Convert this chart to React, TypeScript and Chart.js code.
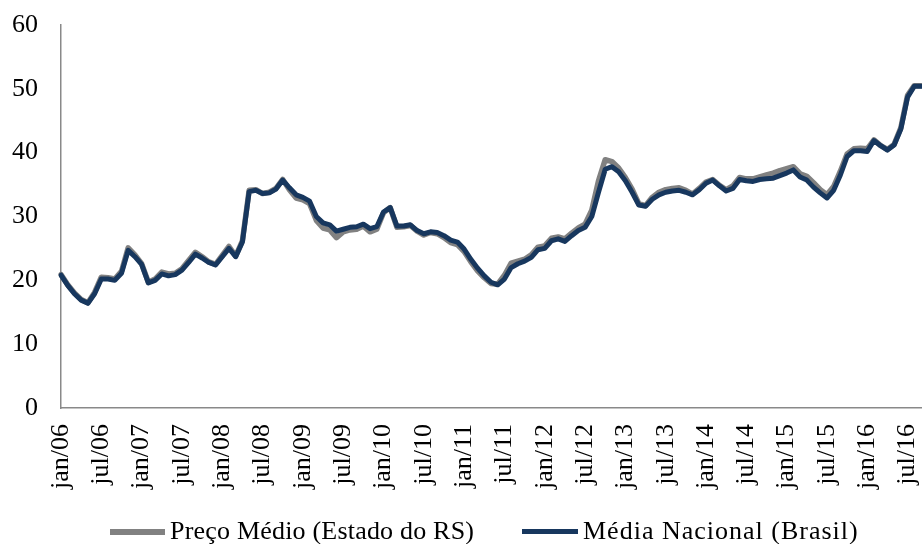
import React, { useEffect, useRef } from 'react';
import { Chart, registerables } from 'chart.js';

Chart.register(...registerables);

const monthNames = ['jan', 'fev', 'mar', 'abr', 'mai', 'jun', 'jul', 'ago', 'set', 'out', 'nov', 'dez'];
const years = ['06', '07', '08', '09', '10', '11', '12', '13', '14', '15', '16'];
const categories = years.flatMap((y) => monthNames.map((m) => `${m}/${y}`)).slice(0, 129);
const tickEvery = 6;
const yTicks = [0, 10, 20, 30, 40, 50, 60];

const seriesNames = ['Preço Médio (Estado do RS)', 'Média Nacional (Brasil)'];

const precoRS = [
  20.9, 19.3, 18.0, 17.0, 16.5, 18.1, 20.5, 20.4, 20.2, 21.4, 25.1, 24.0,
  22.6, 19.7, 20.2, 21.3, 21.0, 21.1, 21.8, 23.1, 24.4, 23.7, 22.9, 22.5,
  23.9, 25.3, 23.8, 26.2, 34.1, 34.2, 33.6, 33.8, 34.4, 35.8, 34.2, 32.9,
  32.6, 32.0, 29.4, 28.2, 27.9, 26.7, 27.6, 27.9, 28.0, 28.5, 27.6, 28.0,
  30.6, 31.4, 28.3, 28.4, 28.6, 27.7, 27.1, 27.5, 27.3, 26.7, 25.9, 25.6,
  24.5, 22.9, 21.5, 20.4, 19.5, 19.4, 20.8, 22.7, 23.0, 23.3, 24.0, 25.2,
  25.4, 26.6, 26.8, 26.5, 27.4, 28.2, 28.8, 31.0, 35.6, 38.9, 38.6, 37.6,
  36.1, 34.3, 32.0, 31.7, 33.0, 33.8, 34.2, 34.4, 34.5, 34.1, 33.5, 34.4,
  35.4, 35.8, 34.9, 34.2, 34.8, 36.1, 35.9, 35.9, 36.2, 36.5, 36.8, 37.2,
  37.5, 37.8, 36.7, 36.3, 35.3, 34.2, 33.4, 34.7, 37.1, 39.8, 40.6, 40.7,
  40.6, 42.0, 41.1, 40.5, 41.3, 43.9, 49.0, 50.5, 50.5,
];

const mediaNacional = [
  20.8, 19.2, 17.9, 16.9, 16.4, 17.9, 20.2, 20.2, 20.0, 21.1, 24.7, 23.7,
  22.5, 19.6, 20.0, 21.0, 20.7, 20.9, 21.6, 22.8, 24.1, 23.5, 22.8, 22.4,
  23.7, 25.0, 23.7, 26.0, 33.9, 34.1, 33.6, 33.7, 34.3, 35.7, 34.5, 33.4,
  33.0, 32.4, 30.0, 29.0, 28.7, 27.7, 28.0, 28.3, 28.4, 28.8, 28.1, 28.4,
  30.7, 31.4, 28.5, 28.5, 28.7, 27.8, 27.3, 27.6, 27.5, 27.0, 26.3, 26.0,
  24.9, 23.3, 21.9, 20.7, 19.7, 19.3, 20.2, 22.0, 22.6, 23.0, 23.6, 24.8,
  25.0, 26.2, 26.5, 26.1, 27.0, 27.8, 28.3, 30.0, 33.8, 37.4, 37.8, 37.0,
  35.6, 33.8, 31.8, 31.6, 32.7, 33.4, 33.8, 34.0, 34.1, 33.8, 33.4, 34.2,
  35.2, 35.7, 34.8, 34.0, 34.4, 35.8, 35.6, 35.5, 35.8, 35.9, 36.0, 36.4,
  36.8, 37.3, 36.2, 35.7, 34.6, 33.7, 32.9, 34.1, 36.5, 39.4, 40.3, 40.3,
  40.2, 41.9, 41.1, 40.4, 41.2, 43.7, 48.7, 50.4, 50.4,
];

const GRAY = '#818181';
const NAVY = '#17375e';
const FONT = '"Liberation Serif", "Times New Roman", serif';

const zeroPadding = (scale: any) => {
  scale.paddingTop = 0;
  scale.paddingBottom = 0;
  scale.paddingLeft = 0;
  scale.paddingRight = 0;
};

export default function App() {
  const canvasRef = useRef<HTMLCanvasElement | null>(null);

  useEffect(() => {
    const canvas = canvasRef.current;
    if (!canvas) return;
    const chart = new Chart(canvas, {
      type: 'line',
      data: {
        labels: categories,
        datasets: [
          {
            label: seriesNames[0],
            data: precoRS,
            borderColor: GRAY,
            backgroundColor: GRAY,
            borderWidth: 5.5,
            pointRadius: 0,
            tension: 0,
            borderJoinStyle: 'round',
            borderCapStyle: 'round',
            order: 1,
          },
          {
            label: seriesNames[1],
            data: mediaNacional,
            borderColor: NAVY,
            backgroundColor: NAVY,
            borderWidth: 5,
            pointRadius: 0,
            tension: 0,
            borderJoinStyle: 'round',
            borderCapStyle: 'round',
            order: 0,
          },
        ],
      },
      options: {
        responsive: false,
        animation: false,
        devicePixelRatio: 1,
        layout: { padding: { top: 25, right: 1, bottom: 36, left: 0 } },
        plugins: {
          legend: { display: false },
          tooltip: { enabled: false },
          title: { display: false },
        },
        scales: {
          x: {
            type: 'category',
            grid: { display: false, drawTicks: false },
            border: { display: true, color: '#898989', width: 1.5 },
            ticks: {
              autoSkip: false,
              maxRotation: 90,
              minRotation: 90,
              padding: 16,
              color: '#000',
              font: { family: FONT, size: 26 },
              callback: (_v: any, i: number) => (i % tickEvery === 0 ? categories[i] : ''),
            },
            afterFit: (scale: any) => {
              scale.height = 100;
              zeroPadding(scale);
            },
          },
          y: {
            min: 0,
            max: 60,
            grid: { display: false, drawTicks: false },
            border: { display: true, color: '#898989', width: 1.5 },
            afterBuildTicks: (scale: any) => {
              scale.ticks = yTicks.map((v) => ({ value: v }));
            },
            ticks: {
              padding: 23,
              color: '#000',
              font: { family: FONT, size: 26 },
            },
            afterFit: (scale: any) => {
              scale.width = 61;
              zeroPadding(scale);
            },
          },
        },
      },
    });
    return () => chart.destroy();
  }, []);

  const legendText: React.CSSProperties = {
    position: 'absolute',
    top: 516,
    fontFamily: FONT,
    fontSize: 26,
    lineHeight: '30px',
    color: '#000',
    whiteSpace: 'nowrap',
  };

  return (
    <div
      style={{
        position: 'fixed',
        left: 0,
        top: 0,
        width: 922,
        height: 544,
        overflow: 'hidden',
        background: '#fff',
      }}
    >
      <canvas ref={canvasRef} width={922} height={544} style={{ display: 'block', width: 922, height: 544 }} />
      <div style={{ position: 'absolute', left: 110, top: 529, width: 55, height: 5.5, background: GRAY }} />
      <span style={{ ...legendText, left: 170, letterSpacing: '0.2px' }}>{seriesNames[0]}</span>
      <div style={{ position: 'absolute', left: 522, top: 529, width: 56, height: 5, background: NAVY }} />
      <span style={{ ...legendText, left: 583, letterSpacing: '1px' }}>{seriesNames[1]}</span>
    </div>
  );
}
